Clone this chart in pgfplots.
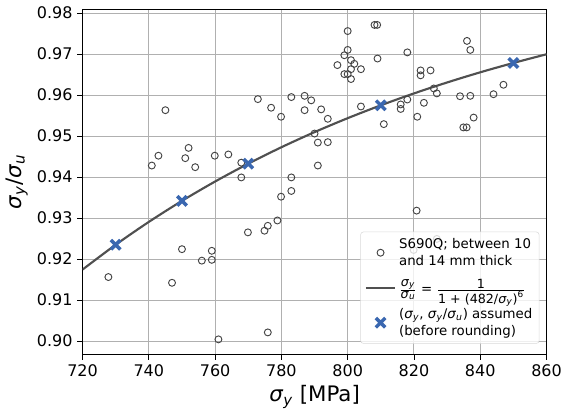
\documentclass[border=0pt]{standalone}
\usepackage{pgfplots}
\pgfplotsset{compat=1.18}
\usepackage{fontspec}
\setmainfont{DejaVu Sans}
\newcommand\sig[1]{\textit{σ}\textsubscript{\textit{#1}}}
\definecolor{ptgray}{HTML}{444444}
\definecolor{curvegray}{HTML}{505050}
\definecolor{xblue}{HTML}{3A67B0}
\definecolor{gridgray}{HTML}{B0B0B0}
\pgfplotsset{
  markleg/.style={legend image code/.code={\draw[##1] plot coordinates {(0.39cm,0cm)};}},
  lineleg/.style={legend image code/.code={\draw[##1] (0cm,0cm) -- (0.78cm,0cm);}},
}
\begin{document}
\begin{tikzpicture}
\begin{axis}[
  name=ax,
  scale only axis,
  width=348pt, height=258.75pt,
  xmin=720, xmax=860, ymin=0.89675, ymax=0.9809,
  xtick={720,740,760,780,800,820,840,860},
  ytick={0.90,0.91,0.92,0.93,0.94,0.95,0.96,0.97,0.98},
  scaled y ticks=false, scaled x ticks=false,
  yticklabel style={/pgf/number format/.cd, fixed, fixed zerofill, precision=2},
  /pgf/number format/assume math mode=true,
  ticklabel style={font=\fontsize{12}{14}\selectfont},
  grid=major,
  major grid style={draw=gridgray, line width=0.75pt},
  tick align=outside, tick pos=left,
  major tick length=4pt,
  every tick/.style={black, line width=0.6pt},
  axis line style={line width=0.6pt},
  xlabel={\sig{y} [MPa]},
  ylabel={\sig{y}/\sig{u}},
  label style={font=\fontsize{16}{19}\selectfont},
  legend style={at={(1,0)}, anchor=south east, xshift=-5.4pt, yshift=8pt,
    fill=white, fill opacity=0.8, text opacity=1, draw=gray!30, rounded corners=2pt,
    font=\fontsize{10}{13}\selectfont, cells={align=left, anchor=west},
    row sep=5pt, inner xsep=3pt, inner ysep=2.5pt},
]
\addplot[only marks, mark=o, mark size=2.6pt, ptgray, mark options={line width=0.7pt}, markleg]
 coordinates {
(727.8,0.9156) (740.9,0.9428) (742.9,0.9452) (745.0,0.9563) (747.0,0.9142)
(750.0,0.9224) (751.0,0.9446) (752.0,0.9471) (754.0,0.9424) (756.0,0.9196)
(759.0,0.9220) (759.0,0.9198) (759.9,0.9452) (761.0,0.9004) (764.0,0.9455)
(767.9,0.9435) (767.9,0.9399) (769.9,0.9265) (772.9,0.9590) (774.9,0.9269)
(775.9,0.9281) (775.9,0.9021) (776.9,0.9569) (778.8,0.9294) (779.9,0.9547)
(779.9,0.9352) (783.0,0.9595) (783.0,0.9399) (783.0,0.9366) (787.0,0.9598)
(787.0,0.9563) (789.0,0.9587) (790.0,0.9506) (791.0,0.9484) (791.0,0.9428)
(792.0,0.9565) (794.0,0.9542) (794.0,0.9485) (796.9,0.9673) (799.0,0.9697)
(799.0,0.9651) (800.0,0.9756) (800.0,0.9710) (800.0,0.9651) (801.0,0.9685)
(801.0,0.9663) (801.0,0.9639) (802.0,0.9676) (804.0,0.9663) (804.0,0.9572)
(808.1,0.9771) (808.9,0.9771) (809.0,0.9689) (810.9,0.9529) (816.0,0.9577)
(816.0,0.9566) (818.0,0.9704) (818.0,0.9589) (819.9,0.9222) (820.8,0.9318)
(821.0,0.9547) (822.0,0.9660) (822.0,0.9648) (823.0,0.9581) (825.0,0.9660)
(826.0,0.9616) (826.9,0.9604) (826.9,0.9249) (833.9,0.9597) (834.9,0.9521)
(835.9,0.9521) (836.0,0.9732) (837.0,0.9710) (837.0,0.9598) (838.0,0.9545)
(844.0,0.9602) (847.0,0.9625)
};
\addlegendentry{S690Q; between 10\\and 14 mm thick}
\addplot[curvegray, line width=1.6pt, smooth, lineleg] coordinates {
(720,0.91742) (730,0.92348) (740,0.92905) (750,0.93418) (760,0.93890)
(770,0.94325) (780,0.94726) (790,0.95095) (800,0.95435) (810,0.95749)
(820,0.96039) (830,0.96306) (840,0.96554) (850,0.96782) (860,0.96994)
};
\addlegendentry{$\frac{\mbox{\fontsize{9.5}{10}\selectfont\sig{y}}}{\mbox{\fontsize{9.5}{10}\selectfont\sig{u}}}\mbox{ = }\frac{\mbox{\fontsize{9.5}{10}\selectfont 1}}{\mbox{\fontsize{9.5}{10}\selectfont 1 + (482/\sig{y})\textsuperscript{6}}}$}
\addplot[only marks, mark=x, mark size=5pt, xblue, mark options={line width=2.6pt}, markleg]
 coordinates {
(730,0.92348) (750,0.93418) (770,0.94325) (810,0.95749) (850,0.96782)
};
\addlegendentry{(\sig{y}, \sig{y}/\sig{u}) assumed\\(before rounding)}
\end{axis}
\pgfresetboundingbox
\path[use as bounding box] ([shift={(-61.9pt,-43.3pt)}]ax.south west) rectangle ([shift={(13.1pt,7pt)}]ax.north east);
\end{tikzpicture}
\end{document}
